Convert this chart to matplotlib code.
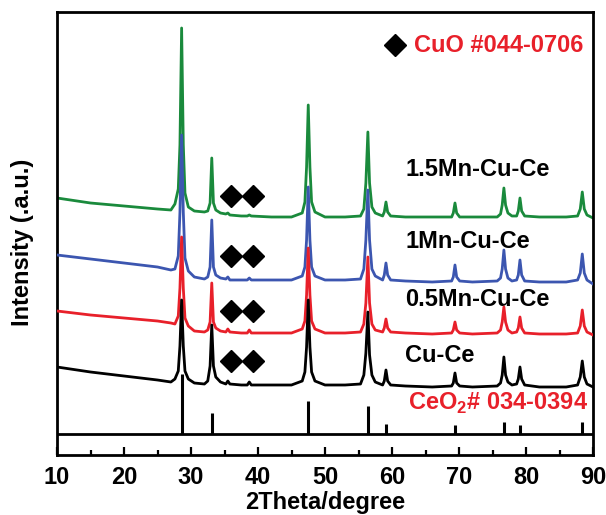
import matplotlib
matplotlib.use("Agg")
import matplotlib.pyplot as plt
from matplotlib.ticker import MultipleLocator

plt.rcParams['font.family'] = ['Liberation Sans', 'DejaVu Sans']
plt.rcParams['mathtext.fontset'] = 'custom'
plt.rcParams['mathtext.rm'] = 'Liberation Sans'
plt.rcParams['mathtext.bf'] = 'Liberation Sans:bold'

# 2-theta sampling positions (degrees)
two_theta = [10, 15, 20, 25, 27,
             27.6, 28.1, 28.35, 28.6, 28.85, 29.1, 29.6,
             30.5, 32.0,
             32.5, 32.85, 33.1, 33.35, 33.7, 34.4,
             35.2, 35.5, 35.8, 37.5, 38.4, 38.7, 39.0, 42, 45,
             46.6, 47.0, 47.25, 47.5, 47.75, 48.0, 48.5,
             50, 53, 55.3,
             55.8, 56.1, 56.4, 56.65, 57.0, 57.5,
             58.6, 58.85, 59.1, 59.35, 59.8,
             62, 66,
             68.9, 69.15, 69.4, 69.65, 70.1,
             72, 75.7,
             76.2, 76.45, 76.7, 76.95, 77.3, 77.9,
             78.6, 78.85, 79.1, 79.35, 79.8,
             82, 86, 87.7,
             88.1, 88.4, 88.7, 89.1, 90]

cu_ce = [88, 83, 79, 75, 73,
         76, 84, 109, 155, 109, 84, 76,
         72, 71,
         74, 89, 130, 89, 78, 73,
         71, 74, 71, 70, 70, 73, 70, 70, 70,
         74, 83, 108, 155, 108, 83, 74,
         70, 70, 71,
         80, 102, 143, 100, 80, 73,
         70, 74, 85, 74, 70,
         69, 68,
         69, 72, 82, 72, 69,
         68, 69,
         72, 80, 98, 80, 73, 70,
         71, 76, 88, 76, 70,
         68, 68, 70,
         78, 94, 78, 71, 68]

mn05 = [144, 140, 137, 134, 132,
        131, 139, 167, 218, 167, 137, 129,
        124, 123,
        125, 133, 172, 133, 127, 124,
        123, 126, 123, 122, 122, 125, 122, 122, 122,
        126, 134, 160, 207, 160, 134, 126,
        122, 122, 123,
        131, 152, 198, 152, 131, 125,
        123, 127, 136, 127, 123,
        122, 121,
        122, 125, 133, 125, 122,
        121, 122,
        125, 133, 148, 133, 125, 122,
        123, 127, 138, 127, 122,
        121, 121, 122,
        129, 145, 129, 123, 120]

mn1 = [200, 196, 192, 188, 185,
       186, 199, 243, 320, 243, 197, 184,
       178, 176,
       178, 188, 235, 188, 180, 177,
       176, 178, 175, 175, 175, 177, 175, 175, 175,
       179, 188, 215, 268, 215, 188, 179,
       175, 175, 176,
       186, 215, 265, 215, 186, 179,
       175, 180, 192, 180, 175,
       174, 173,
       174, 178, 190, 178, 174,
       173, 174,
       177, 186, 205, 186, 177, 174,
       175, 180, 195, 180, 174,
       173, 173, 175,
       182, 201, 182, 175, 171]

mn15 = [257, 252, 249, 246, 245,
        251, 266, 310, 427, 310, 262, 248,
        244, 243,
        244, 252, 297, 252, 245, 242,
        241, 242, 240, 239, 239, 240, 239, 238, 238,
        242, 253, 288, 350, 288, 253, 243,
        238, 238, 239,
        246, 272, 323, 272, 248, 242,
        239, 243, 253, 243, 239,
        238, 238,
        238, 242, 252, 242, 238,
        238, 238,
        241, 250, 267, 250, 242, 239,
        239, 244, 257, 244, 239,
        238, 238, 239,
        246, 263, 246, 240, 237]

# CeO2 reference pattern (JCPDS 034-0394)
ref_pos = [28.6, 33.1, 47.5, 56.35, 59.1, 69.4, 76.7, 79.1, 88.4]
ref_top = [81, 42, 54, 49, 31, 30, 33, 30, 33]
ref_base = 21

# CuO marker positions
cuo_x = [35.9, 39.2]
cuo_y = {'Cu-Ce': 94, '0.5Mn-Cu-Ce': 144, '1Mn-Cu-Ce': 199, '1.5Mn-Cu-Ce': 259}

labels = ['Cu-Ce', '0.5Mn-Cu-Ce', '1Mn-Cu-Ce', '1.5Mn-Cu-Ce']
label_y = [100, 155, 214, 286]

green = '#1a8a3c'
blue = '#3c56b0'
red = '#e8202a'

fig = plt.figure(figsize=(6.06, 5.15), dpi=100)
ax = fig.add_axes([57/606, 60/515, 536/606, 443/515])

lw = 2.0
ax.plot(two_theta, mn15, color=green, lw=lw, zorder=2)
ax.plot(two_theta, mn1, color=blue, lw=lw, zorder=3)
ax.plot(two_theta, mn05, color=red, lw=lw, zorder=4)
ax.plot(two_theta, cu_ce, color='black', lw=lw, zorder=5)

ax.vlines(ref_pos, ref_base, ref_top, color='black', lw=2.2)
ax.axhline(ref_base, color='black', lw=2.0)

for lab in labels:
    ax.plot(cuo_x, [cuo_y[lab]] * 2, 'D', color='black', ms=11, ls='none', zorder=6)

for lab, ly in zip(labels, label_y):
    ax.text(62.0, ly, lab, fontsize=17, fontweight='bold', ha='left', va='center')

ax.plot([60.5], [410], 'D', color='black', ms=11, ls='none')
ax.text(63.3, 410, 'CuO #044-0706', fontsize=17, fontweight='bold', color=red,
        ha='left', va='center')
ax.text(62.4, 52, r'CeO$_\mathbf{2}$# 034-0394', fontsize=17, fontweight='bold',
        color=red, ha='left', va='center')

ax.set_xlim(10, 90)
ax.set_ylim(0, 443)
ax.xaxis.set_major_locator(MultipleLocator(10))
ax.xaxis.set_minor_locator(MultipleLocator(5))
ax.tick_params(axis='x', which='major', direction='in', length=6, width=1.6,
               labelsize=17, pad=8, top=False)
ax.tick_params(axis='x', which='minor', direction='in', length=3.5, width=1.6, top=False)
ax.set_yticks([])
for lbl in ax.get_xticklabels():
    lbl.set_fontweight('bold')
for s in ax.spines.values():
    s.set_linewidth(2.0)

ax.set_xlabel('2Theta/degree', fontsize=17, fontweight='bold', labelpad=1)
ax.set_ylabel('Intensity (.a.u.)', fontsize=17, fontweight='bold')
ax.yaxis.set_label_coords(-0.042, 0.48)

fig.savefig('out.png', dpi=100)
